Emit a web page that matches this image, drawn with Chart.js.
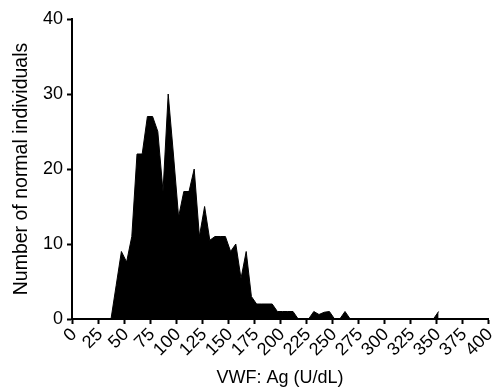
<!DOCTYPE html>
<html>
<head>
<meta charset="utf-8">
<script src="https://cdn.jsdelivr.net/npm/chart.js@4/dist/chart.umd.min.js"></script>
<style>
  html, body { margin: 0; padding: 0; background: #fff; }
  #wrap { width: 493px; height: 387px; }
</style>
</head>
<body>
<div id="wrap"><canvas id="c" width="493" height="387"></canvas></div>
<script>
// Bin centres (VWF:Ag, U/dL) and number of individuals per bin
const vwfAg = [2.5, 7.5, 12.5, 17.5, 22.5, 27.5, 32.5, 37.5, 42.5, 47.5,
  52.5, 57.5, 62.5, 67.5, 72.5, 77.5, 82.5, 87.5, 92.5, 97.5,
  102.5, 107.5, 112.5, 117.5, 122.5, 127.5, 132.5, 137.5, 142.5, 147.5,
  152.5, 157.5, 162.5, 167.5, 172.5, 177.5, 182.5, 187.5, 192.5, 197.5,
  202.5, 207.5, 212.5, 217.5, 222.5, 227.5, 232.5, 237.5, 242.5, 247.5,
  252.5, 257.5, 262.5, 267.5, 272.5, 277.5, 282.5, 287.5, 292.5, 297.5,
  302.5, 307.5, 312.5, 317.5, 322.5, 327.5, 332.5, 337.5, 342.5, 347.5, 352.5];
const counts = [0, 0, 0, 0, 0, 0, 0, 0, 4.5, 9,
  7.6, 11, 22, 22, 27, 27, 25, 17, 30, 22,
  13.6, 17, 17, 20, 11, 15, 10.5, 11, 11, 11,
  9, 10, 5.4, 9, 3, 2, 2, 2, 2, 1,
  1, 1, 1, 0, 0, 0, 1, 0.6, 0.9, 1,
  0, 0, 1, 0, 0, 0, 0, 0, 0, 0,
  0, 0, 0, 0, 0, 0, 0, 0, 0, 0, 1];
const xTickStep = 25, xMin = 0, xMax = 400;
const yTickStep = 10, yMin = 0, yMax = 40;
const xTitle = 'VWF: Ag (U/dL)';
const yTitle = 'Number of normal individuals';

const FONT = '"Liberation Sans", Arial, Helvetica, sans-serif';
const points = vwfAg.map((x, i) => ({ x: x, y: counts[i] }));

new Chart(document.getElementById('c'), {
  type: 'line',
  data: {
    datasets: [{
      data: points,
      borderColor: '#000',
      backgroundColor: '#000',
      borderWidth: 1,
      pointRadius: 0,
      tension: 0,
      fill: 'origin'
    }]
  },
  options: {
    responsive: false,
    animation: false,
    devicePixelRatio: 1,
    layout: { padding: { top: 19, right: 5, bottom: 0, left: 0 } },
    plugins: { legend: { display: false }, tooltip: { enabled: false } },
    scales: {
      x: {
        type: 'linear',
        min: xMin, max: xMax,
        afterFit: s => { s.height = 68; s.paddingLeft = 0; s.paddingRight = 0; },
        border: { display: true, color: '#000', width: 2 },
        grid: { display: true, drawOnChartArea: false, drawTicks: true, tickLength: 5, tickColor: '#000', tickWidth: 2 },
        ticks: { stepSize: xTickStep, autoSkip: false, minRotation: 45, maxRotation: 45, color: '#000', padding: 0, labelOffset: 2, font: { family: FONT, size: 18 } },
        title: { display: true, text: xTitle, color: '#000', padding: { top: 0, bottom: 0 }, font: { family: FONT, size: 18, lineHeight: 1 } }
      },
      y: {
        min: yMin, max: yMax,
        afterFit: s => { s.width = 72; },
        border: { display: true, color: '#000', width: 2 },
        grid: { display: true, drawOnChartArea: false, drawTicks: true, tickLength: 5, tickColor: '#000', tickWidth: 2 },
        ticks: { stepSize: yTickStep, color: '#000', padding: 4, font: { family: FONT, size: 18 } },
        title: { display: true, text: yTitle, color: '#000', padding: { top: 11.5, bottom: 0 }, font: { family: FONT, size: 19.5, lineHeight: 1 } }
      }
    }
  }
});
</script>
</body>
</html>
